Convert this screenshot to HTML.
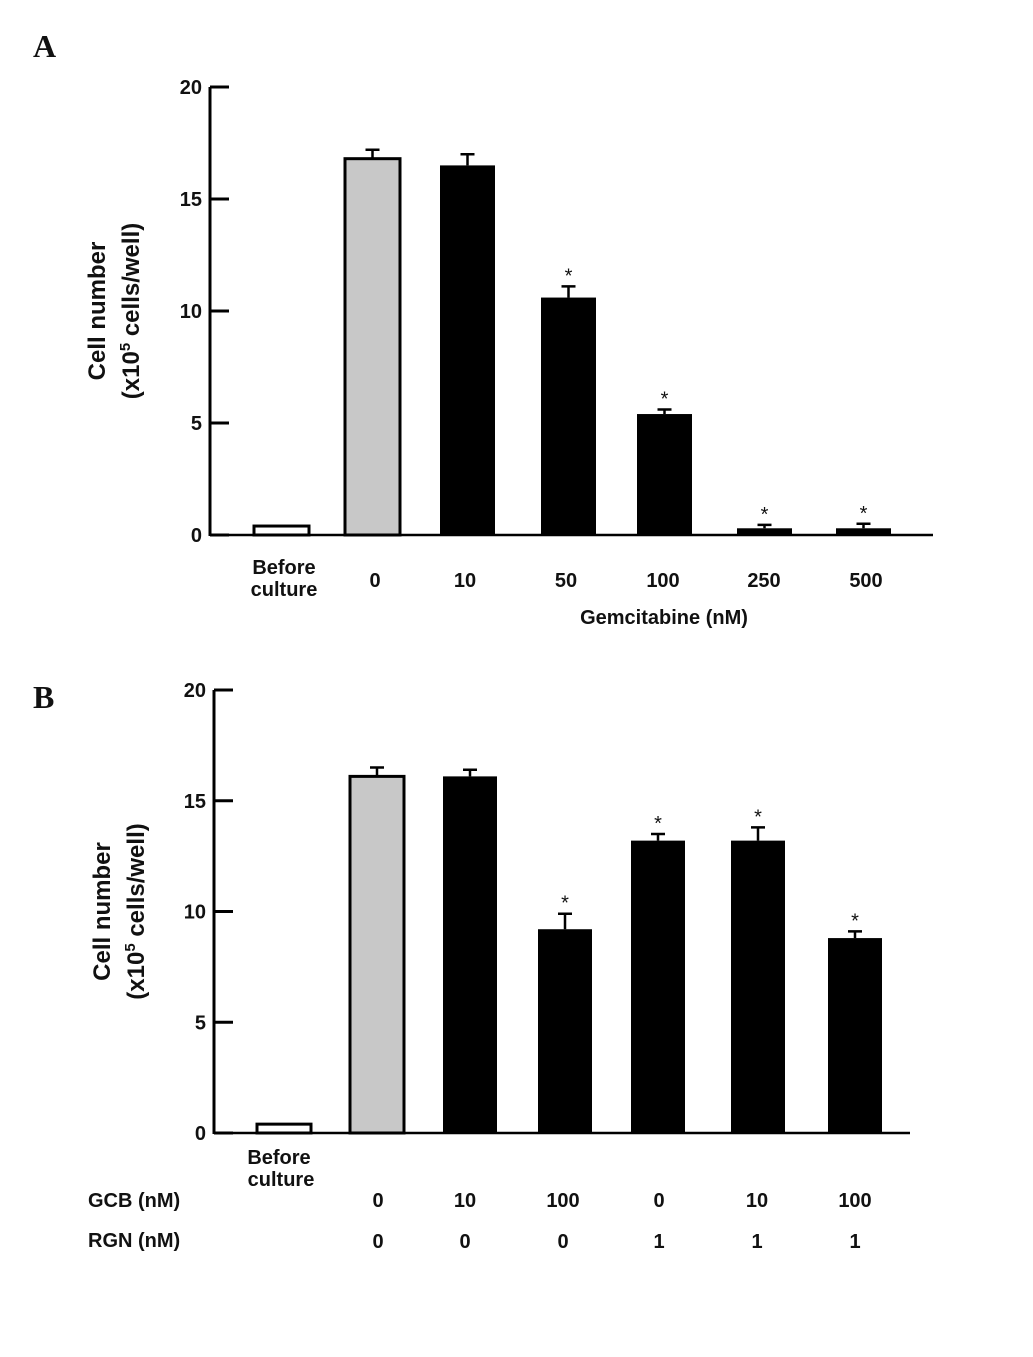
<!DOCTYPE html>
<html><head><meta charset="utf-8"><style>
body{margin:0;background:#fff;}
svg text{font-family:"Liberation Sans",Arial,sans-serif;font-weight:bold;fill:#111;}
</style></head><body>
<svg width="1033" height="1352" viewBox="0 0 1033 1352" xmlns="http://www.w3.org/2000/svg">
<g id="gA"></g>
<g id="gB"></g>
</svg>
<script>
const NS="http://www.w3.org/2000/svg";
// Panel A data
const catsA=["Before culture","0","10","50","100","250","500"];
const valsA=[0.4,16.8,16.5,10.6,5.4,0.3,0.3];
const errA=[0,0.4,0.5,0.5,0.2,0.15,0.2];
const sigA=[false,false,false,true,true,true,true];
// Panel B data
const gcbB=["","0","10","100","0","10","100"];
const rgnB=["","0","0","0","1","1","1"];
const valsB=[0.4,16.1,16.1,9.2,13.2,13.2,8.8];
const errB=[0,0.4,0.3,0.7,0.3,0.6,0.3];
const sigB=[false,false,false,true,true,true,true];
const ticks=[0,5,10,15,20];

function el(p,t,a,txt){const e=document.createElementNS(NS,t);for(const k in a)e.setAttribute(k,a[k]);if(txt!==undefined)e.textContent=txt;p.appendChild(e);return e;}

function panel(g,cfg){
  const y=v=>cfg.y0-(cfg.y0-cfg.y20)*v/20;
  let e=el(g,'text',{x:cfg.labX,y:cfg.labY,style:'font-family:"Liberation Serif",serif;font-size:32px;font-weight:bold'},cfg.letter);
  
  
  e=el(g,'line',{x1:cfg.ax,y1:y(20),x2:cfg.ax,y2:y(0)+1,stroke:'#000','stroke-width':3});
  
  
  e=el(g,'line',{x1:cfg.ax,y1:y(0),x2:cfg.xEnd,y2:y(0),stroke:'#000','stroke-width':2.5});
  
  
  ticks.forEach(t=>{
    let l=el(g,'line',{x1:cfg.ax,y1:y(t),x2:cfg.ax+19,y2:y(t),stroke:'#000','stroke-width':3});
    
    
    let tx=el(g,'text',{x:cfg.ax-8,y:y(t)+7,'font-size':20,'text-anchor':'end'},String(t));
    
    
  });
  const yt=el(g,'text',{transform:`translate(${cfg.ytX},${(y(0)+y(20))/2}) rotate(-90)`,'font-size':24,'text-anchor':'middle'});
  
  
  el(yt,'tspan',{x:0,y:0},'Cell number');
  el(yt,'tspan',{x:0,y:34},'(x10');
  el(yt,'tspan',{dy:-9,'font-size':15},'5');
  el(yt,'tspan',{dy:9},' cells/well)');
  cfg.vals.forEach((v,i)=>{
    const x0=cfg.xs[i],w=cfg.w;
    const fill=i===0?'#fff':(i===1?'#c8c8c8':'#000');
    const r=el(g,'rect',{x:x0,y:y(v),width:w,height:y(0)-y(v),fill:fill,stroke:'#000','stroke-width':i<2?3:0});
    
    
    const e=cfg.err[i];
    if(e>0){
      const cx=x0+w/2;
      const p=el(g,'path',{d:`M${cx},${y(v)} V${y(v+e)} M${cx-7},${y(v+e)} H${cx+7}`,stroke:'#000','stroke-width':2.5,fill:'none'});
      
      
    }
    if(cfg.sig[i]){
      const s=el(g,'text',{x:x0+w/2,y:y(v+e)-4,'font-size':20,'text-anchor':'middle',style:'font-weight:normal'},'*');
      
      
    }
  });
}

const gA=document.getElementById('gA');
panel(gA,{letter:'A',labX:33,labY:57,ax:210,y0:535,y20:87,xEnd:933,ytX:105,
  xs:[254,345,440,541,637,737,836],w:55,vals:valsA,err:errA,sig:sigA});
catsA.forEach((c,i)=>{
  const cx=[282,375,465,566,663,764,866][i];
  if(i===0){
    let t=el(gA,'text',{x:284,y:574,'font-size':20,'text-anchor':'middle'},'Before');
     
    t=el(gA,'text',{x:284,y:596,'font-size':20,'text-anchor':'middle'},'culture');
     
  } else {
    const t=el(gA,'text',{x:cx,y:587,'font-size':20,'text-anchor':'middle'},c);
    
    
  }
});
let tA=el(gA,'text',{x:664,y:624,'font-size':20,'text-anchor':'middle'},'Gemcitabine (nM)');



const gB=document.getElementById('gB');
panel(gB,{letter:'B',labX:33,labY:708,ax:214,y0:1133,y20:690,xEnd:910,ytX:110,
  xs:[257,350,443,538,631,731,828],w:54,vals:valsB,err:errB,sig:sigB});
let t=el(gB,'text',{x:279,y:1164,'font-size':20,'text-anchor':'middle'},'Before');
 
t=el(gB,'text',{x:281,y:1186,'font-size':20,'text-anchor':'middle'},'culture');
 
t=el(gB,'text',{x:88,y:1207,'font-size':20},'GCB (nM)');
 
t=el(gB,'text',{x:88,y:1247,'font-size':20},'RGN (nM)');
 
const cxB=[0,378,465,563,659,757,855];
gcbB.forEach((c,i)=>{ if(!c)return;
  const a=el(gB,'text',{x:cxB[i],y:1207,'font-size':20,'text-anchor':'middle'},c);
   
  const b=el(gB,'text',{x:cxB[i],y:1248,'font-size':20,'text-anchor':'middle'},rgnB[i]);
   
});
</script>
</body></html>
